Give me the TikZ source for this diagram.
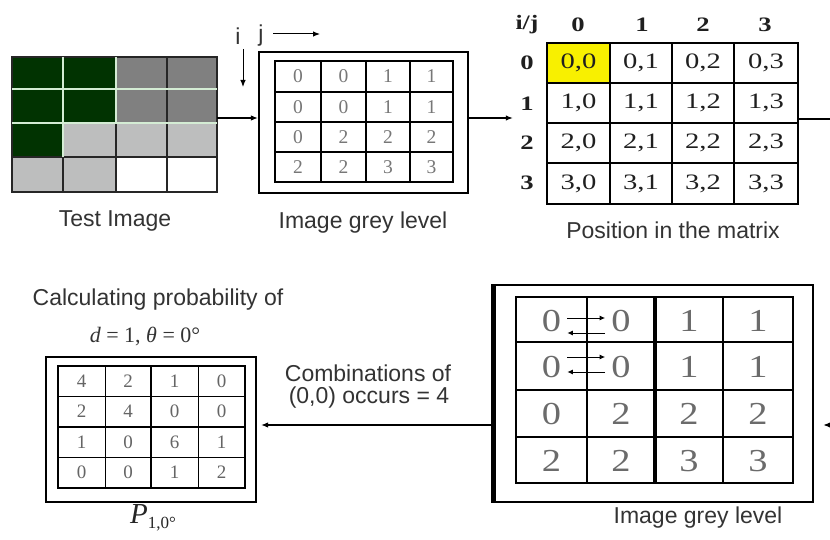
\documentclass[tikz,border=0pt]{standalone}
\usepackage{fontspec}
\setmainfont{Liberation Serif}
\setsansfont{Liberation Sans}
\usetikzlibrary{arrows.meta}
\definecolor{txt}{HTML}{333333}
\definecolor{dgreen}{HTML}{013301}
\definecolor{mgrey}{HTML}{808080}
\definecolor{lgrey}{HTML}{BDBEBE}
\definecolor{lline}{HTML}{D4ECD4}
\definecolor{digit}{HTML}{777777}
\definecolor{yel}{HTML}{F8F000}
\newcommand\wide[2]{\scalebox{#1}[1]{#2}}
\begin{document}
\begin{tikzpicture}[x=1pt,y=-1pt,
  lbl/.style={font=\sffamily\fontsize{23}{26}\selectfont, text=txt, inner sep=0pt},
  box/.style={draw=black, line width=2.2pt, inner sep=0pt},
  arr/.style={draw=black, line width=1.2pt, -{Latex[length=7pt,width=5.5pt]}},
  plain/.style={draw=black, line width=1.2pt},
  gdig/.style={font=\fontsize{19.5}{22}\selectfont, text=digit, inner sep=0pt},
  bdig/.style={font=\fontsize{32}{36}\selectfont, text=digit!90!black, inner sep=0pt},
  pdig/.style={font=\fontsize{19}{22}\selectfont, text=digit!85!black, inner sep=0pt},
  mtxt/.style={font=\fontsize{22}{24}\selectfont, text=black!88, inner sep=0pt},
  mhead/.style={font=\bfseries\fontsize{20.5}{24}\selectfont, text=black!88, inner sep=0pt},
  gridline/.style={line width=2pt, draw=black},
  sarr/.style={draw=black, line width=1pt, -{Latex[length=5.5pt,width=5pt]}}
]
\useasboundingbox (0,0) rectangle (830,540);
\fill[white] (0,0) rectangle (830,540);

% ---------- Test image ----------
\node[inner sep=0pt, minimum width=205pt, minimum height=135pt] (test) at (114.5,124.5) {};
\foreach \cl [count=\k from 0] in {dgreen,dgreen,mgrey,mgrey,dgreen,dgreen,mgrey,mgrey,dgreen,lgrey,lgrey,lgrey,lgrey,lgrey,white,white}{
  \pgfmathtruncatemacro\c{mod(\k,4)}
  \pgfmathtruncatemacro\r{int(\k/4)}
  \pgfmathsetmacro\xa{{12,63,116,167,217}[\c]}
  \pgfmathsetmacro\xb{{12,63,116,167,217}[\c+1]}
  \pgfmathsetmacro\ya{{57,89,123,157,192}[\r]}
  \pgfmathsetmacro\yb{{57,89,123,157,192}[\r+1]}
  \fill[\cl] (\xa,\ya) rectangle (\xb,\yb);
}
\draw[line width=1.3pt, draw=black!85] (12,57) rectangle (217,192);
\draw[line width=1.3pt, draw=black!85] (12,157) -- (217,157);
\draw[line width=1.3pt, draw=black!85] (63,123) -- (63,192) (116,57) -- (116,192) (167,57) -- (167,192);
\draw[line width=1.6pt, draw=lline] (12,89) -- (217,89) (12,123) -- (217,123);
\draw[line width=1.2pt, draw=lline] (63,57) -- (63,157) (116,57) -- (116,123);
\node[lbl] (testlbl) at (115,221) {Test Image};

% ---------- Image grey level (top) ----------
\node[box, minimum width=209pt, minimum height=141pt] (grey1) at (363.5,122.5) {};
\draw[gridline] (275,61) rectangle (453,182);
\foreach \xx in {321,366,410} \draw[gridline] (\xx,61) -- (\xx,182);
\foreach \yy in {92,122,152} \draw[gridline] (275,\yy) -- (453,\yy);
\foreach \v [count=\k from 0] in {0,0,1,1,0,0,1,1,0,2,2,2,2,2,3,3}{
  \pgfmathtruncatemacro\c{mod(\k,4)}
  \pgfmathtruncatemacro\r{int(\k/4)}
  \pgfmathsetmacro\xx{{298,343.5,388,431.5}[\c]}
  \pgfmathsetmacro\yy{{76.5,107,137,167}[\r]}
  \node[gdig] (g\k) at (\xx,\yy) {\v};
}
\node[lbl] (grey1lbl) at (363,223) {Image grey level};
\node[lbl] (ilab) at (238,36) {i};
\node[lbl] (jlab) at (261,36) {j};
\coordinate (itop) at (243,49);
\coordinate (ibot) at (243,87);
\coordinate (jleft) at (273,34);
\coordinate (jright) at (320,34);
\draw[arr, line width=1pt] (itop) -- (ibot);
\draw[arr, line width=1pt] (jleft) -- (jright);

% ---------- Position matrix ----------
\node[inner sep=0pt, minimum width=251pt, minimum height=161pt] (pos) at (672.5,123.5) {};
\fill[yel] (547,43) rectangle (610,83);
\draw[line width=2.5pt] (547,43) rectangle (798,204);
\foreach \xx in {610,672,734} \draw[gridline] (\xx,43) -- (\xx,204);
\foreach \yy in {83,123,163} \draw[gridline] (547,\yy) -- (798,\yy);
\foreach \r in {0,1,2,3}{
  \foreach \c in {0,1,2,3}{
    \pgfmathsetmacro\xx{{578.5,641,703,766}[\c]}
    \pgfmathsetmacro\yy{{63,103,143,183.5}[\r]}
    \node[mtxt] (m\r\c) at (\xx,\yy) {\wide{1.3}{\r,\c}};
  }
}
\node[mhead] (hij) at (527,25) {\wide{1.25}{i/j}};
\node[mhead] (hc0) at (578,25) {\wide{1.3}{0}};
\node[mhead] (hc1) at (642,25) {\wide{1.3}{1}};
\node[mhead] (hc2) at (703,25) {\wide{1.3}{2}};
\node[mhead] (hc3) at (765,25) {\wide{1.3}{3}};
\node[mhead] (hr0) at (527,63) {\wide{1.3}{0}};
\node[mhead] (hr1) at (527,104) {\wide{1.3}{1}};
\node[mhead] (hr2) at (527,143) {\wide{1.3}{2}};
\node[mhead] (hr3) at (527,183) {\wide{1.3}{3}};
\node[lbl] (poslbl) at (673,230) {Position in the matrix};

% ---------- Image grey level (bottom, large) ----------
\node[box, line width=2.5pt, minimum width=321pt, minimum height=217pt] (big) at (652.5,393.5) {};
\draw[line width=5pt] (493,284) -- (493,503);
\draw[line width=2.5pt] (516,297) rectangle (793,483);
\foreach \xx in {587,723} \draw[line width=2.5pt] (\xx,297) -- (\xx,483);
\draw[line width=3.5pt] (655,297) -- (655,483);
\foreach \yy in {342,390,437} \draw[line width=2.5pt] (516,\yy) -- (793,\yy);
\foreach \v [count=\k from 0] in {0,0,1,1,0,0,1,1,0,2,2,2,2,2,3,3}{
  \pgfmathtruncatemacro\c{mod(\k,4)}
  \pgfmathtruncatemacro\r{int(\k/4)}
  \pgfmathsetmacro\xx{{551.5,621,689,758}[\c]}
  \pgfmathsetmacro\yy{{321,367,414,461}[\r]}
  \node[bdig] (b\k) at (\xx,\yy) {\wide{1.2}{\v}};
}
\draw[sarr] ([xshift=6pt,yshift=3pt]b0.east) -- ([xshift=-6pt,yshift=3pt]b1.west);
\draw[sarr] ([xshift=-6pt,yshift=-12pt]b1.west) -- ([xshift=6pt,yshift=-12pt]b0.east);
\draw[sarr] ([xshift=6pt,yshift=10pt]b4.east) -- ([xshift=-6pt,yshift=10pt]b5.west);
\draw[sarr] ([xshift=-6pt,yshift=-5pt]b5.west) -- ([xshift=6pt,yshift=-5pt]b4.east);
\node[lbl] (biglbl) at (698,518) {Image grey level};

% ---------- P matrix ----------
\node[box, minimum width=210pt, minimum height=145pt] (pbox) at (151,429.5) {};
\draw[line width=2.5pt] (58,366) rectangle (245,488);
\foreach \xx in {105,198} \draw[line width=1pt] (\xx,366) -- (\xx,488);
\foreach \yy in {396,457} \draw[line width=1pt] (58,\yy) -- (245,\yy);
\draw[line width=2pt] (151,366) -- (151,488);
\draw[line width=2pt] (58,427) -- (245,427);
\foreach \v [count=\k from 0] in {4,2,1,0,2,4,0,0,1,0,6,1,0,0,1,2}{
  \pgfmathtruncatemacro\c{mod(\k,4)}
  \pgfmathtruncatemacro\r{int(\k/4)}
  \pgfmathsetmacro\xx{{81.5,128,174.5,221.5}[\c]}
  \pgfmathsetmacro\yy{{381,411.5,442,472.5}[\r]}
  \node[pdig] (p\k) at (\xx,\yy) {\v};
}
\node[lbl] (calc) at (158,300) {Calculating probability of};
\node[inner sep=0pt, text=txt, font=\fontsize{22}{24}\selectfont] (dth) at (145,336) {\textit{d} = 1, \textit{θ} = 0°};
\node[inner sep=0pt, text=black!85, font=\fontsize{29}{32}\selectfont] (plbl) at (153,518) {\textit{P}\raisebox{-5pt}{\fontsize{17}{18}\selectfont 1,0°}};
\node[lbl] (comb1) at (368,373) {Combinations of};
\node[lbl] (comb2) at (369,398) {(0,0) occurs = 4};

% ---------- Connectors ----------
\coordinate (edgeA) at (830,119);
\coordinate (edgeB) at (830,425);
\draw[arr] ([yshift=6.5pt]test.east) -- ([yshift=6.5pt]test.east -| grey1.west);
\draw[arr, shorten >=34pt] ([yshift=4.5pt]grey1.east) -- ([yshift=4.5pt]grey1.east -| pos.west);
\draw[plain] ([yshift=4.5pt]pos.east) -- (edgeA);
\draw[arr, shorten >=9pt] (edgeB) -- (edgeB -| big.east);
\draw[arr, shorten >=4pt] ([yshift=-31.5pt]big.west) -- ([yshift=-31.5pt]big.west -| pbox.east);
\end{tikzpicture}
\end{document}
